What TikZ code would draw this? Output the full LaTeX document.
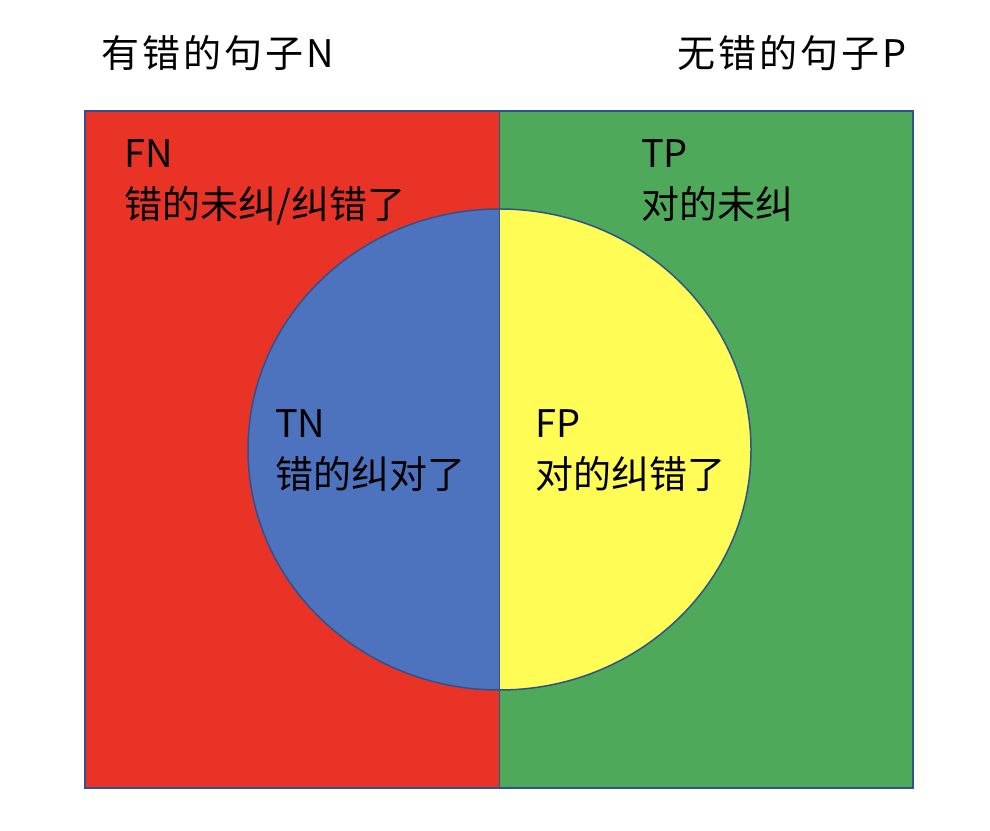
\documentclass[tikz,border=0pt]{standalone}
\usepackage{fontspec}
\setmainfont{Noto Sans CJK SC}
\usetikzlibrary{positioning}
\definecolor{wrongred}{RGB}{233,51,39}
\definecolor{rightgreen}{RGB}{78,170,90}
\definecolor{tnblue}{RGB}{77,115,190}
\definecolor{fpyellow}{RGB}{255,252,85}
\definecolor{edge}{RGB}{47,82,143}
\tikzstyle{label} = [anchor=base west, inner sep=0pt, align=left, font=\fontsize{38}{51}\selectfont]
\tikzstyle{title} = [label, font=\fontsize{38}{51}\selectfont\addfontfeature{LetterSpace=8}]
\tikzstyle{outline} = [draw=edge, line width=1.5pt]

\begin{document}
\begin{tikzpicture}[x=1pt,y=1pt]
\useasboundingbox (0,0) rectangle (990,830);
% two halves
\fill [wrongred] (85,42) rectangle (499.5,719);
\fill [rightgreen] (499.5,42) rectangle (913,719);
%
\coordinate (top) at (499.5,621);
\coordinate (bottom) at (499.5,140);
\fill [tnblue] (top) arc[start angle=90, end angle=270, x radius=251.5, y radius=240.5] -- cycle;
\fill [fpyellow] (bottom) arc[start angle=-90, end angle=90, x radius=251.5, y radius=240.5] -- cycle;
%
\draw [outline] (85,42) rectangle (913,719);
\draw [outline] (499.5,380.5) ellipse [x radius=251.5, y radius=240.5];
\draw [outline] (499.5,719) -- (499.5,42);

\node (neg) at (101,762) [title] {有错的句子N};
\node (pos) at (677,762) [title] {无错的句子P};
% base = last line
\node (fn) at (124,611) [label] {FN\\错的未纠/纠错了};
\node (tp) at (641,611) [label] {TP\\对的未纠};
%
\node (tn) at (275,341) [label] {TN\\错的纠对了};
\node (fp) at (535,341) [label] {FP\\对的纠错了};

\end{tikzpicture}
\end{document}
